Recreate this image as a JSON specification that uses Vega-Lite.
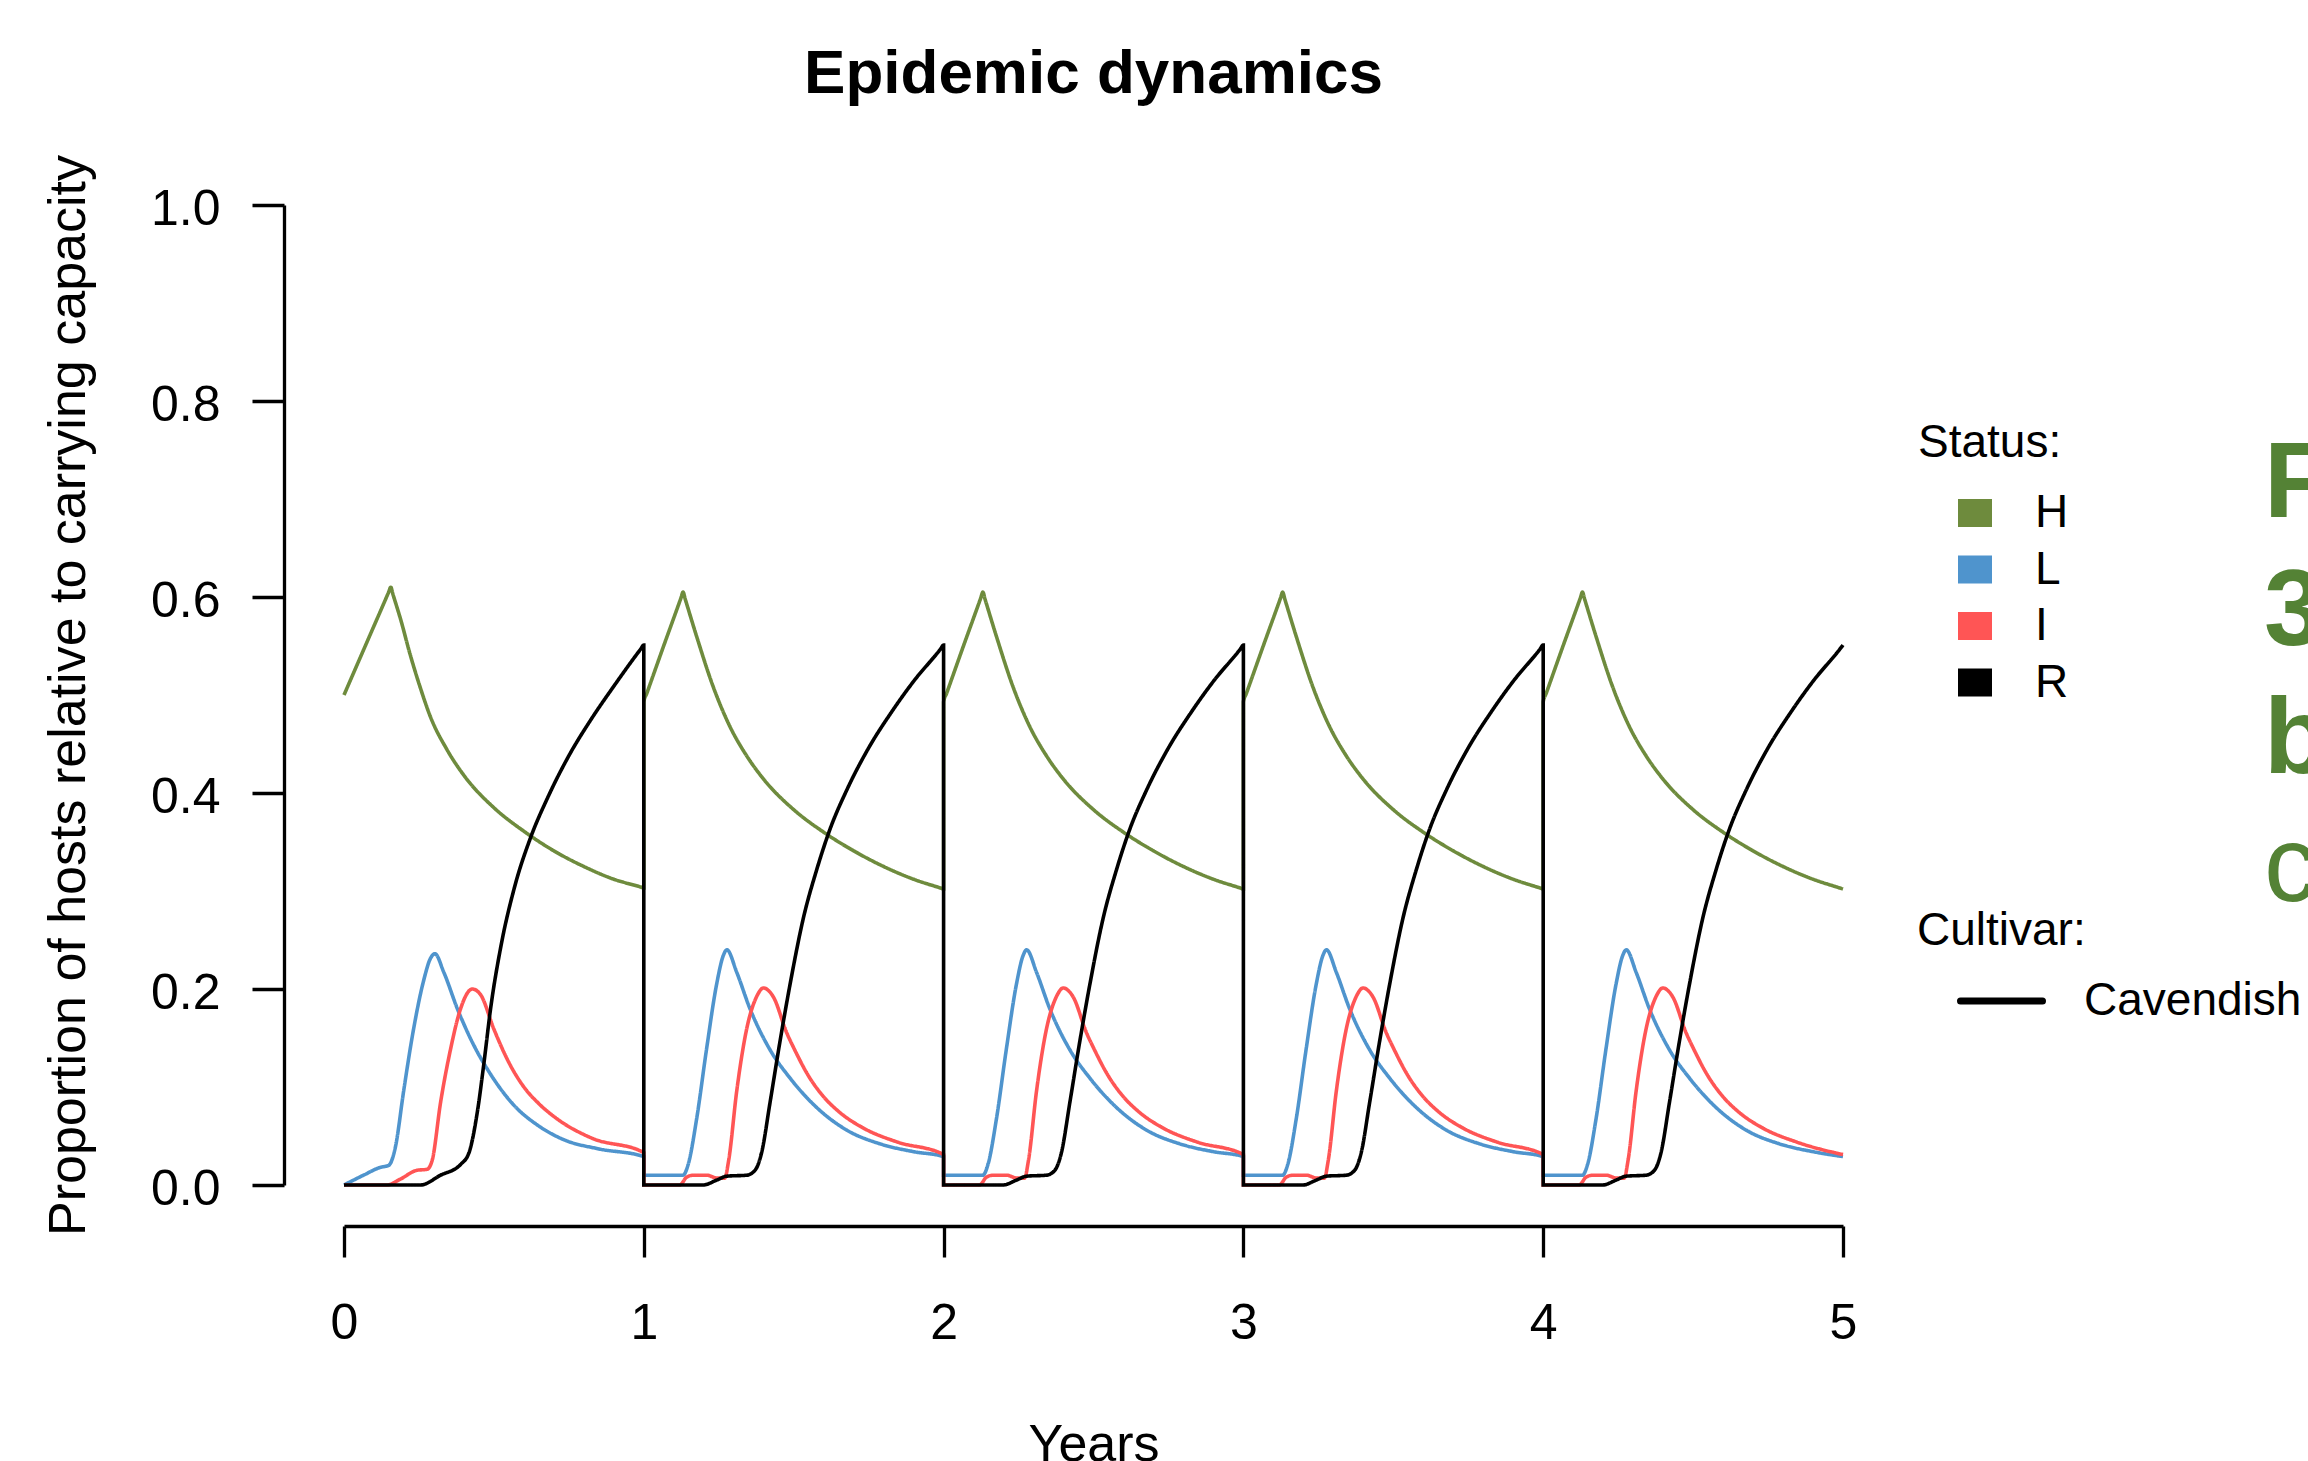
{
  "$schema": "https://vega.github.io/schema/vega-lite/v6.json",
  "width": 1499,
  "height": 980,
  "autosize": {"type": "none"},
  "padding": {"left": 344, "top": 205, "right": 465, "bottom": 276},
  "background": "white",
  "title": {
    "text": "Epidemic dynamics",
    "font": "Liberation Sans",
    "fontSize": 62,
    "fontWeight": "bold",
    "color": "black",
    "anchor": "middle",
    "baseline": "alphabetic",
    "offset": 0
  },
  "datasets": {
    "curves": [
      {"t":0,"v":0.5,"s":"H","c":"Cavendish"},{"t":0.078,"v":0.555,"s":"H","c":"Cavendish"},{"t":0.149,"v":0.605,"s":"H","c":"Cavendish"},{"t":0.156,"v":0.61,"s":"H","c":"Cavendish"},{"t":0.163,"v":0.603,"s":"H","c":"Cavendish"},{"t":0.19,"v":0.576,"s":"H","c":"Cavendish"},{"t":0.22,"v":0.542,"s":"H","c":"Cavendish"},{"t":0.255,"v":0.507,"s":"H","c":"Cavendish"},{"t":0.288,"v":0.478,"s":"H","c":"Cavendish"},{"t":0.344,"v":0.444,"s":"H","c":"Cavendish"},{"t":0.4,"v":0.418,"s":"H","c":"Cavendish"},{"t":0.5,"v":0.385,"s":"H","c":"Cavendish"},{"t":0.6,"v":0.361,"s":"H","c":"Cavendish"},{"t":0.7,"v":0.341,"s":"H","c":"Cavendish"},{"t":0.8,"v":0.325,"s":"H","c":"Cavendish"},{"t":0.9,"v":0.312,"s":"H","c":"Cavendish"},{"t":0.99,"v":0.304,"s":"H","c":"Cavendish"},{"t":1,"v":0.303,"s":"H","c":"Cavendish"},
      {"t":1,"v":0.493,"s":"H","c":"Cavendish"},{"t":1.01,"v":0.5016,"s":"H","c":"Cavendish"},{"t":1.065,"v":0.549,"s":"H","c":"Cavendish"},{"t":1.124,"v":0.599,"s":"H","c":"Cavendish"},{"t":1.131,"v":0.605,"s":"H","c":"Cavendish"},{"t":1.138,"v":0.598,"s":"H","c":"Cavendish"},{"t":1.176,"v":0.56,"s":"H","c":"Cavendish"},{"t":1.232,"v":0.508,"s":"H","c":"Cavendish"},{"t":1.287,"v":0.468,"s":"H","c":"Cavendish"},{"t":1.343,"v":0.438,"s":"H","c":"Cavendish"},{"t":1.4,"v":0.414,"s":"H","c":"Cavendish"},{"t":1.5,"v":0.383,"s":"H","c":"Cavendish"},{"t":1.6,"v":0.36,"s":"H","c":"Cavendish"},{"t":1.7,"v":0.341,"s":"H","c":"Cavendish"},{"t":1.8,"v":0.325,"s":"H","c":"Cavendish"},{"t":1.9,"v":0.312,"s":"H","c":"Cavendish"},{"t":1.99,"v":0.303,"s":"H","c":"Cavendish"},{"t":2,"v":0.302,"s":"H","c":"Cavendish"},
      {"t":2,"v":0.493,"s":"H","c":"Cavendish"},{"t":2.01,"v":0.5016,"s":"H","c":"Cavendish"},{"t":2.065,"v":0.549,"s":"H","c":"Cavendish"},{"t":2.124,"v":0.599,"s":"H","c":"Cavendish"},{"t":2.131,"v":0.605,"s":"H","c":"Cavendish"},{"t":2.138,"v":0.598,"s":"H","c":"Cavendish"},{"t":2.176,"v":0.56,"s":"H","c":"Cavendish"},{"t":2.232,"v":0.508,"s":"H","c":"Cavendish"},{"t":2.287,"v":0.468,"s":"H","c":"Cavendish"},{"t":2.343,"v":0.438,"s":"H","c":"Cavendish"},{"t":2.4,"v":0.414,"s":"H","c":"Cavendish"},{"t":2.5,"v":0.383,"s":"H","c":"Cavendish"},{"t":2.6,"v":0.36,"s":"H","c":"Cavendish"},{"t":2.7,"v":0.341,"s":"H","c":"Cavendish"},{"t":2.8,"v":0.325,"s":"H","c":"Cavendish"},{"t":2.9,"v":0.312,"s":"H","c":"Cavendish"},{"t":2.99,"v":0.303,"s":"H","c":"Cavendish"},{"t":3,"v":0.302,"s":"H","c":"Cavendish"},
      {"t":3,"v":0.493,"s":"H","c":"Cavendish"},{"t":3.01,"v":0.5016,"s":"H","c":"Cavendish"},{"t":3.065,"v":0.549,"s":"H","c":"Cavendish"},{"t":3.124,"v":0.599,"s":"H","c":"Cavendish"},{"t":3.131,"v":0.605,"s":"H","c":"Cavendish"},{"t":3.138,"v":0.598,"s":"H","c":"Cavendish"},{"t":3.176,"v":0.56,"s":"H","c":"Cavendish"},{"t":3.232,"v":0.508,"s":"H","c":"Cavendish"},{"t":3.287,"v":0.468,"s":"H","c":"Cavendish"},{"t":3.343,"v":0.438,"s":"H","c":"Cavendish"},{"t":3.4,"v":0.414,"s":"H","c":"Cavendish"},{"t":3.5,"v":0.383,"s":"H","c":"Cavendish"},{"t":3.6,"v":0.36,"s":"H","c":"Cavendish"},{"t":3.7,"v":0.341,"s":"H","c":"Cavendish"},{"t":3.8,"v":0.325,"s":"H","c":"Cavendish"},{"t":3.9,"v":0.312,"s":"H","c":"Cavendish"},{"t":3.99,"v":0.303,"s":"H","c":"Cavendish"},{"t":4,"v":0.302,"s":"H","c":"Cavendish"},
      {"t":4,"v":0.493,"s":"H","c":"Cavendish"},{"t":4.01,"v":0.5016,"s":"H","c":"Cavendish"},{"t":4.065,"v":0.549,"s":"H","c":"Cavendish"},{"t":4.124,"v":0.599,"s":"H","c":"Cavendish"},{"t":4.131,"v":0.605,"s":"H","c":"Cavendish"},{"t":4.138,"v":0.598,"s":"H","c":"Cavendish"},{"t":4.176,"v":0.56,"s":"H","c":"Cavendish"},{"t":4.232,"v":0.508,"s":"H","c":"Cavendish"},{"t":4.287,"v":0.468,"s":"H","c":"Cavendish"},{"t":4.343,"v":0.438,"s":"H","c":"Cavendish"},{"t":4.4,"v":0.414,"s":"H","c":"Cavendish"},{"t":4.5,"v":0.383,"s":"H","c":"Cavendish"},{"t":4.6,"v":0.36,"s":"H","c":"Cavendish"},{"t":4.7,"v":0.341,"s":"H","c":"Cavendish"},{"t":4.8,"v":0.325,"s":"H","c":"Cavendish"},{"t":4.9,"v":0.312,"s":"H","c":"Cavendish"},{"t":4.99,"v":0.303,"s":"H","c":"Cavendish"},{"t":5,"v":0.302,"s":"H","c":"Cavendish"},

      {"t":0,"v":0,"s":"L","c":"Cavendish"},{"t":0.065,"v":0.01,"s":"L","c":"Cavendish"},{"t":0.121,"v":0.018,"s":"L","c":"Cavendish"},{"t":0.149,"v":0.02,"s":"L","c":"Cavendish"},{"t":0.171,"v":0.038,"s":"L","c":"Cavendish"},{"t":0.199,"v":0.096,"s":"L","c":"Cavendish"},{"t":0.232,"v":0.159,"s":"L","c":"Cavendish"},{"t":0.266,"v":0.209,"s":"L","c":"Cavendish"},{"t":0.288,"v":0.231,"s":"L","c":"Cavendish"},{"t":0.303,"v":0.236,"s":"L","c":"Cavendish"},{"t":0.333,"v":0.217,"s":"L","c":"Cavendish"},{"t":0.378,"v":0.18,"s":"L","c":"Cavendish"},{"t":0.434,"v":0.142,"s":"L","c":"Cavendish"},{"t":0.489,"v":0.113,"s":"L","c":"Cavendish"},{"t":0.568,"v":0.081,"s":"L","c":"Cavendish"},{"t":0.646,"v":0.061,"s":"L","c":"Cavendish"},{"t":0.735,"v":0.046,"s":"L","c":"Cavendish"},{"t":0.847,"v":0.037,"s":"L","c":"Cavendish"},{"t":1,"v":0.029,"s":"L","c":"Cavendish"},
      {"t":1,"v":0.01,"s":"L","c":"Cavendish"},{"t":1.131,"v":0.01,"s":"L","c":"Cavendish"},{"t":1.148,"v":0.021,"s":"L","c":"Cavendish"},{"t":1.176,"v":0.067,"s":"L","c":"Cavendish"},{"t":1.209,"v":0.138,"s":"L","c":"Cavendish"},{"t":1.243,"v":0.205,"s":"L","c":"Cavendish"},{"t":1.265,"v":0.234,"s":"L","c":"Cavendish"},{"t":1.277,"v":0.24,"s":"L","c":"Cavendish"},{"t":1.31,"v":0.217,"s":"L","c":"Cavendish"},{"t":1.354,"v":0.18,"s":"L","c":"Cavendish"},{"t":1.421,"v":0.138,"s":"L","c":"Cavendish"},{"t":1.488,"v":0.109,"s":"L","c":"Cavendish"},{"t":1.577,"v":0.079,"s":"L","c":"Cavendish"},{"t":1.677,"v":0.056,"s":"L","c":"Cavendish"},{"t":1.788,"v":0.042,"s":"L","c":"Cavendish"},{"t":1.9,"v":0.034,"s":"L","c":"Cavendish"},{"t":2,"v":0.029,"s":"L","c":"Cavendish"},
      {"t":2,"v":0.01,"s":"L","c":"Cavendish"},{"t":2.131,"v":0.01,"s":"L","c":"Cavendish"},{"t":2.148,"v":0.021,"s":"L","c":"Cavendish"},{"t":2.176,"v":0.067,"s":"L","c":"Cavendish"},{"t":2.209,"v":0.138,"s":"L","c":"Cavendish"},{"t":2.243,"v":0.205,"s":"L","c":"Cavendish"},{"t":2.265,"v":0.234,"s":"L","c":"Cavendish"},{"t":2.277,"v":0.24,"s":"L","c":"Cavendish"},{"t":2.31,"v":0.217,"s":"L","c":"Cavendish"},{"t":2.354,"v":0.18,"s":"L","c":"Cavendish"},{"t":2.421,"v":0.138,"s":"L","c":"Cavendish"},{"t":2.488,"v":0.109,"s":"L","c":"Cavendish"},{"t":2.577,"v":0.079,"s":"L","c":"Cavendish"},{"t":2.677,"v":0.056,"s":"L","c":"Cavendish"},{"t":2.788,"v":0.042,"s":"L","c":"Cavendish"},{"t":2.9,"v":0.034,"s":"L","c":"Cavendish"},{"t":3,"v":0.029,"s":"L","c":"Cavendish"},
      {"t":3,"v":0.01,"s":"L","c":"Cavendish"},{"t":3.131,"v":0.01,"s":"L","c":"Cavendish"},{"t":3.148,"v":0.021,"s":"L","c":"Cavendish"},{"t":3.176,"v":0.067,"s":"L","c":"Cavendish"},{"t":3.209,"v":0.138,"s":"L","c":"Cavendish"},{"t":3.243,"v":0.205,"s":"L","c":"Cavendish"},{"t":3.265,"v":0.234,"s":"L","c":"Cavendish"},{"t":3.277,"v":0.24,"s":"L","c":"Cavendish"},{"t":3.31,"v":0.217,"s":"L","c":"Cavendish"},{"t":3.354,"v":0.18,"s":"L","c":"Cavendish"},{"t":3.421,"v":0.138,"s":"L","c":"Cavendish"},{"t":3.488,"v":0.109,"s":"L","c":"Cavendish"},{"t":3.577,"v":0.079,"s":"L","c":"Cavendish"},{"t":3.677,"v":0.056,"s":"L","c":"Cavendish"},{"t":3.788,"v":0.042,"s":"L","c":"Cavendish"},{"t":3.9,"v":0.034,"s":"L","c":"Cavendish"},{"t":4,"v":0.029,"s":"L","c":"Cavendish"},
      {"t":4,"v":0.01,"s":"L","c":"Cavendish"},{"t":4.131,"v":0.01,"s":"L","c":"Cavendish"},{"t":4.148,"v":0.021,"s":"L","c":"Cavendish"},{"t":4.176,"v":0.067,"s":"L","c":"Cavendish"},{"t":4.209,"v":0.138,"s":"L","c":"Cavendish"},{"t":4.243,"v":0.205,"s":"L","c":"Cavendish"},{"t":4.265,"v":0.234,"s":"L","c":"Cavendish"},{"t":4.277,"v":0.24,"s":"L","c":"Cavendish"},{"t":4.31,"v":0.217,"s":"L","c":"Cavendish"},{"t":4.354,"v":0.18,"s":"L","c":"Cavendish"},{"t":4.421,"v":0.138,"s":"L","c":"Cavendish"},{"t":4.488,"v":0.109,"s":"L","c":"Cavendish"},{"t":4.577,"v":0.079,"s":"L","c":"Cavendish"},{"t":4.677,"v":0.056,"s":"L","c":"Cavendish"},{"t":4.788,"v":0.042,"s":"L","c":"Cavendish"},{"t":4.9,"v":0.034,"s":"L","c":"Cavendish"},{"t":5,"v":0.029,"s":"L","c":"Cavendish"},

      {"t":0,"v":0,"s":"I","c":"Cavendish"},{"t":0.143,"v":0,"s":"I","c":"Cavendish"},{"t":0.188,"v":0.006,"s":"I","c":"Cavendish"},{"t":0.243,"v":0.015,"s":"I","c":"Cavendish"},{"t":0.277,"v":0.016,"s":"I","c":"Cavendish"},{"t":0.294,"v":0.025,"s":"I","c":"Cavendish"},{"t":0.322,"v":0.084,"s":"I","c":"Cavendish"},{"t":0.355,"v":0.138,"s":"I","c":"Cavendish"},{"t":0.389,"v":0.18,"s":"I","c":"Cavendish"},{"t":0.428,"v":0.2,"s":"I","c":"Cavendish"},{"t":0.456,"v":0.194,"s":"I","c":"Cavendish"},{"t":0.5,"v":0.159,"s":"I","c":"Cavendish"},{"t":0.55,"v":0.125,"s":"I","c":"Cavendish"},{"t":0.6,"v":0.1,"s":"I","c":"Cavendish"},{"t":0.65,"v":0.083,"s":"I","c":"Cavendish"},{"t":0.713,"v":0.067,"s":"I","c":"Cavendish"},{"t":0.825,"v":0.048,"s":"I","c":"Cavendish"},{"t":1,"v":0.033,"s":"I","c":"Cavendish"},
      {"t":1,"v":0,"s":"I","c":"Cavendish"},{"t":1.12,"v":0,"s":"I","c":"Cavendish"},{"t":1.143,"v":0.008,"s":"I","c":"Cavendish"},{"t":1.165,"v":0.01,"s":"I","c":"Cavendish"},{"t":1.21,"v":0.01,"s":"I","c":"Cavendish"},{"t":1.245,"v":0.007,"s":"I","c":"Cavendish"},{"t":1.27,"v":0.007,"s":"I","c":"Cavendish"},{"t":1.283,"v":0.025,"s":"I","c":"Cavendish"},{"t":1.31,"v":0.096,"s":"I","c":"Cavendish"},{"t":1.343,"v":0.159,"s":"I","c":"Cavendish"},{"t":1.376,"v":0.192,"s":"I","c":"Cavendish"},{"t":1.399,"v":0.201,"s":"I","c":"Cavendish"},{"t":1.432,"v":0.192,"s":"I","c":"Cavendish"},{"t":1.477,"v":0.155,"s":"I","c":"Cavendish"},{"t":1.5,"v":0.14,"s":"I","c":"Cavendish"},{"t":1.55,"v":0.111,"s":"I","c":"Cavendish"},{"t":1.6,"v":0.09,"s":"I","c":"Cavendish"},{"t":1.65,"v":0.075,"s":"I","c":"Cavendish"},{"t":1.733,"v":0.058,"s":"I","c":"Cavendish"},{"t":1.844,"v":0.044,"s":"I","c":"Cavendish"},{"t":2,"v":0.031,"s":"I","c":"Cavendish"},
      {"t":2,"v":0,"s":"I","c":"Cavendish"},{"t":2.12,"v":0,"s":"I","c":"Cavendish"},{"t":2.143,"v":0.008,"s":"I","c":"Cavendish"},{"t":2.165,"v":0.01,"s":"I","c":"Cavendish"},{"t":2.21,"v":0.01,"s":"I","c":"Cavendish"},{"t":2.245,"v":0.007,"s":"I","c":"Cavendish"},{"t":2.27,"v":0.007,"s":"I","c":"Cavendish"},{"t":2.283,"v":0.025,"s":"I","c":"Cavendish"},{"t":2.31,"v":0.096,"s":"I","c":"Cavendish"},{"t":2.343,"v":0.159,"s":"I","c":"Cavendish"},{"t":2.376,"v":0.192,"s":"I","c":"Cavendish"},{"t":2.399,"v":0.201,"s":"I","c":"Cavendish"},{"t":2.432,"v":0.192,"s":"I","c":"Cavendish"},{"t":2.477,"v":0.155,"s":"I","c":"Cavendish"},{"t":2.5,"v":0.14,"s":"I","c":"Cavendish"},{"t":2.55,"v":0.111,"s":"I","c":"Cavendish"},{"t":2.6,"v":0.09,"s":"I","c":"Cavendish"},{"t":2.65,"v":0.075,"s":"I","c":"Cavendish"},{"t":2.733,"v":0.058,"s":"I","c":"Cavendish"},{"t":2.844,"v":0.044,"s":"I","c":"Cavendish"},{"t":3,"v":0.031,"s":"I","c":"Cavendish"},
      {"t":3,"v":0,"s":"I","c":"Cavendish"},{"t":3.12,"v":0,"s":"I","c":"Cavendish"},{"t":3.143,"v":0.008,"s":"I","c":"Cavendish"},{"t":3.165,"v":0.01,"s":"I","c":"Cavendish"},{"t":3.21,"v":0.01,"s":"I","c":"Cavendish"},{"t":3.245,"v":0.007,"s":"I","c":"Cavendish"},{"t":3.27,"v":0.007,"s":"I","c":"Cavendish"},{"t":3.283,"v":0.025,"s":"I","c":"Cavendish"},{"t":3.31,"v":0.096,"s":"I","c":"Cavendish"},{"t":3.343,"v":0.159,"s":"I","c":"Cavendish"},{"t":3.376,"v":0.192,"s":"I","c":"Cavendish"},{"t":3.399,"v":0.201,"s":"I","c":"Cavendish"},{"t":3.432,"v":0.192,"s":"I","c":"Cavendish"},{"t":3.477,"v":0.155,"s":"I","c":"Cavendish"},{"t":3.5,"v":0.14,"s":"I","c":"Cavendish"},{"t":3.55,"v":0.111,"s":"I","c":"Cavendish"},{"t":3.6,"v":0.09,"s":"I","c":"Cavendish"},{"t":3.65,"v":0.075,"s":"I","c":"Cavendish"},{"t":3.733,"v":0.058,"s":"I","c":"Cavendish"},{"t":3.844,"v":0.044,"s":"I","c":"Cavendish"},{"t":4,"v":0.031,"s":"I","c":"Cavendish"},
      {"t":4,"v":0,"s":"I","c":"Cavendish"},{"t":4.12,"v":0,"s":"I","c":"Cavendish"},{"t":4.143,"v":0.008,"s":"I","c":"Cavendish"},{"t":4.165,"v":0.01,"s":"I","c":"Cavendish"},{"t":4.21,"v":0.01,"s":"I","c":"Cavendish"},{"t":4.245,"v":0.007,"s":"I","c":"Cavendish"},{"t":4.27,"v":0.007,"s":"I","c":"Cavendish"},{"t":4.283,"v":0.025,"s":"I","c":"Cavendish"},{"t":4.31,"v":0.096,"s":"I","c":"Cavendish"},{"t":4.343,"v":0.159,"s":"I","c":"Cavendish"},{"t":4.376,"v":0.192,"s":"I","c":"Cavendish"},{"t":4.399,"v":0.201,"s":"I","c":"Cavendish"},{"t":4.432,"v":0.192,"s":"I","c":"Cavendish"},{"t":4.477,"v":0.155,"s":"I","c":"Cavendish"},{"t":4.5,"v":0.14,"s":"I","c":"Cavendish"},{"t":4.55,"v":0.111,"s":"I","c":"Cavendish"},{"t":4.6,"v":0.09,"s":"I","c":"Cavendish"},{"t":4.65,"v":0.075,"s":"I","c":"Cavendish"},{"t":4.733,"v":0.058,"s":"I","c":"Cavendish"},{"t":4.844,"v":0.044,"s":"I","c":"Cavendish"},{"t":5,"v":0.031,"s":"I","c":"Cavendish"},

      {"t":0,"v":0,"s":"R","c":"Cavendish"},{"t":0.255,"v":0,"s":"R","c":"Cavendish"},{"t":0.322,"v":0.01,"s":"R","c":"Cavendish"},{"t":0.389,"v":0.021,"s":"R","c":"Cavendish"},{"t":0.417,"v":0.033,"s":"R","c":"Cavendish"},{"t":0.445,"v":0.075,"s":"R","c":"Cavendish"},{"t":0.467,"v":0.125,"s":"R","c":"Cavendish"},{"t":0.489,"v":0.18,"s":"R","c":"Cavendish"},{"t":0.523,"v":0.243,"s":"R","c":"Cavendish"},{"t":0.568,"v":0.303,"s":"R","c":"Cavendish"},{"t":0.623,"v":0.355,"s":"R","c":"Cavendish"},{"t":0.679,"v":0.395,"s":"R","c":"Cavendish"},{"t":0.75,"v":0.438,"s":"R","c":"Cavendish"},{"t":0.825,"v":0.4755,"s":"R","c":"Cavendish"},{"t":0.9,"v":0.509,"s":"R","c":"Cavendish"},{"t":0.99,"v":0.547,"s":"R","c":"Cavendish"},{"t":1,"v":0.551,"s":"R","c":"Cavendish"},
      {"t":1,"v":0,"s":"R","c":"Cavendish"},{"t":1.198,"v":0,"s":"R","c":"Cavendish"},{"t":1.243,"v":0.005,"s":"R","c":"Cavendish"},{"t":1.276,"v":0.009,"s":"R","c":"Cavendish"},{"t":1.343,"v":0.01,"s":"R","c":"Cavendish"},{"t":1.371,"v":0.015,"s":"R","c":"Cavendish"},{"t":1.393,"v":0.033,"s":"R","c":"Cavendish"},{"t":1.421,"v":0.084,"s":"R","c":"Cavendish"},{"t":1.454,"v":0.146,"s":"R","c":"Cavendish"},{"t":1.488,"v":0.205,"s":"R","c":"Cavendish"},{"t":1.532,"v":0.272,"s":"R","c":"Cavendish"},{"t":1.577,"v":0.322,"s":"R","c":"Cavendish"},{"t":1.621,"v":0.363,"s":"R","c":"Cavendish"},{"t":1.677,"v":0.403,"s":"R","c":"Cavendish"},{"t":1.75,"v":0.446,"s":"R","c":"Cavendish"},{"t":1.825,"v":0.482,"s":"R","c":"Cavendish"},{"t":1.9,"v":0.514,"s":"R","c":"Cavendish"},{"t":1.99,"v":0.547,"s":"R","c":"Cavendish"},{"t":2,"v":0.551,"s":"R","c":"Cavendish"},
      {"t":2,"v":0,"s":"R","c":"Cavendish"},{"t":2.198,"v":0,"s":"R","c":"Cavendish"},{"t":2.243,"v":0.005,"s":"R","c":"Cavendish"},{"t":2.276,"v":0.009,"s":"R","c":"Cavendish"},{"t":2.343,"v":0.01,"s":"R","c":"Cavendish"},{"t":2.371,"v":0.015,"s":"R","c":"Cavendish"},{"t":2.393,"v":0.033,"s":"R","c":"Cavendish"},{"t":2.421,"v":0.084,"s":"R","c":"Cavendish"},{"t":2.454,"v":0.146,"s":"R","c":"Cavendish"},{"t":2.488,"v":0.205,"s":"R","c":"Cavendish"},{"t":2.532,"v":0.272,"s":"R","c":"Cavendish"},{"t":2.577,"v":0.322,"s":"R","c":"Cavendish"},{"t":2.621,"v":0.363,"s":"R","c":"Cavendish"},{"t":2.677,"v":0.403,"s":"R","c":"Cavendish"},{"t":2.75,"v":0.446,"s":"R","c":"Cavendish"},{"t":2.825,"v":0.482,"s":"R","c":"Cavendish"},{"t":2.9,"v":0.514,"s":"R","c":"Cavendish"},{"t":2.99,"v":0.547,"s":"R","c":"Cavendish"},{"t":3,"v":0.551,"s":"R","c":"Cavendish"},
      {"t":3,"v":0,"s":"R","c":"Cavendish"},{"t":3.198,"v":0,"s":"R","c":"Cavendish"},{"t":3.243,"v":0.005,"s":"R","c":"Cavendish"},{"t":3.276,"v":0.009,"s":"R","c":"Cavendish"},{"t":3.343,"v":0.01,"s":"R","c":"Cavendish"},{"t":3.371,"v":0.015,"s":"R","c":"Cavendish"},{"t":3.393,"v":0.033,"s":"R","c":"Cavendish"},{"t":3.421,"v":0.084,"s":"R","c":"Cavendish"},{"t":3.454,"v":0.146,"s":"R","c":"Cavendish"},{"t":3.488,"v":0.205,"s":"R","c":"Cavendish"},{"t":3.532,"v":0.272,"s":"R","c":"Cavendish"},{"t":3.577,"v":0.322,"s":"R","c":"Cavendish"},{"t":3.621,"v":0.363,"s":"R","c":"Cavendish"},{"t":3.677,"v":0.403,"s":"R","c":"Cavendish"},{"t":3.75,"v":0.446,"s":"R","c":"Cavendish"},{"t":3.825,"v":0.482,"s":"R","c":"Cavendish"},{"t":3.9,"v":0.514,"s":"R","c":"Cavendish"},{"t":3.99,"v":0.547,"s":"R","c":"Cavendish"},{"t":4,"v":0.551,"s":"R","c":"Cavendish"},
      {"t":4,"v":0,"s":"R","c":"Cavendish"},{"t":4.198,"v":0,"s":"R","c":"Cavendish"},{"t":4.243,"v":0.005,"s":"R","c":"Cavendish"},{"t":4.276,"v":0.009,"s":"R","c":"Cavendish"},{"t":4.343,"v":0.01,"s":"R","c":"Cavendish"},{"t":4.371,"v":0.015,"s":"R","c":"Cavendish"},{"t":4.393,"v":0.033,"s":"R","c":"Cavendish"},{"t":4.421,"v":0.084,"s":"R","c":"Cavendish"},{"t":4.454,"v":0.146,"s":"R","c":"Cavendish"},{"t":4.488,"v":0.205,"s":"R","c":"Cavendish"},{"t":4.532,"v":0.272,"s":"R","c":"Cavendish"},{"t":4.577,"v":0.322,"s":"R","c":"Cavendish"},{"t":4.621,"v":0.363,"s":"R","c":"Cavendish"},{"t":4.677,"v":0.403,"s":"R","c":"Cavendish"},{"t":4.75,"v":0.446,"s":"R","c":"Cavendish"},{"t":4.825,"v":0.482,"s":"R","c":"Cavendish"},{"t":4.9,"v":0.514,"s":"R","c":"Cavendish"},{"t":4.99,"v":0.547,"s":"R","c":"Cavendish"},{"t":5,"v":0.551,"s":"R","c":"Cavendish"}
    ]
  },
  "layer": [
    {
      "data": {"name": "curves"},
      "mark": {"type": "line", "interpolate": "monotone", "strokeWidth": 3.6},
      "encoding": {
        "x": {
          "field": "t", "type": "quantitative", "title": "Years",
          "scale": {"domain": [0, 5], "nice": false, "zero": false},
          "axis": {
            "values": [0, 1, 2, 3, 4, 5], "format": "d", "grid": false, "offset": 41,
            "domainColor": "black", "domainWidth": 3.3, "tickColor": "black", "tickWidth": 3.3, "tickSize": 31,
            "labelFont": "Liberation Sans", "labelFontSize": 50, "labelColor": "black", "labelPadding": 41, "labelFlush": false,
            "titleFont": "Liberation Sans", "titleFontSize": 52, "titleFontWeight": "normal", "titleColor": "black", "titlePadding": 71
          }
        },
        "y": {
          "field": "v", "type": "quantitative", "title": "Proportion of hosts relative to carrying capacity",
          "scale": {"domain": [0, 1], "nice": false},
          "axis": {
            "values": [0, 0.2, 0.4, 0.6, 0.8, 1], "format": ".1f", "grid": false, "offset": 60,
            "domainColor": "black", "domainWidth": 3.3, "tickColor": "black", "tickWidth": 3.3, "tickSize": 32,
            "labelFont": "Liberation Sans", "labelFontSize": 50, "labelColor": "black", "labelPadding": 32,
            "labelBaseline": "alphabetic", "labelOffset": 19, "labelFlush": false,
            "titleFont": "Liberation Sans", "titleFontSize": 52, "titleFontWeight": "normal", "titleColor": "black",
            "titleBaseline": "alphabetic", "titlePadding": 66
          }
        },
        "color": {
          "field": "s", "type": "nominal",
          "scale": {"domain": ["H", "L", "I", "R"], "range": ["#6E8B3D", "#4F94CD", "#FF5555", "#000000"]},
          "legend": {
            "title": "Status:", "orient": "none", "legendX": 1574, "legendY": 216, "padding": 0,
            "titleFont": "Liberation Sans", "titleFontSize": 46, "titleFontWeight": "normal", "titleColor": "black", "titlePadding": 23,
            "labelFont": "Liberation Sans", "labelFontSize": 46, "labelColor": "black", "labelOffset": 37,
            "symbolType": "M-1,-0.824H1V0.824H-1Z", "symbolSize": 1156, "symbolOffset": 34, "symbolStrokeWidth": 0,
            "clipHeight": 46, "rowPadding": 10.5,
            "encode": {"symbols": {"update": {"fill": {"scale": "color", "field": "value"}, "opacity": {"value": 1}}}}
          }
        },
        "strokeDash": {
          "field": "c", "type": "nominal",
          "scale": {"domain": ["Cavendish"], "range": [[1, 0]]},
          "legend": {
            "title": "Cultivar:", "orient": "none", "legendX": 1573, "legendY": 704, "padding": 0,
            "titleFont": "Liberation Sans", "titleFontSize": 46, "titleFontWeight": "normal", "titleColor": "black", "titlePadding": 23,
            "labelFont": "Liberation Sans", "labelFontSize": 46, "labelColor": "black", "labelOffset": 38, "labelLimit": 500,
            "symbolType": "stroke", "symbolSize": 6724, "symbolStrokeWidth": 7, "symbolStrokeColor": "black", "symbolOffset": 40,
            "clipHeight": 46,
            "encode": {"symbols": {"update": {"stroke": {"value": "black"}, "strokeCap": {"value": "round"}, "opacity": {"value": 1}}}}
          }
        }
      }
    },
    {
      "data": {"values": [{}]},
      "mark": {"type": "text", "text": ["F", "3", "b"], "font": "Liberation Sans", "fontWeight": "bold", "fontSize": 107, "lineHeight": 128, "align": "left", "baseline": "alphabetic", "color": "#548235"},
      "encoding": {
        "x": {"datum": 6.404, "type": "quantitative", "title": "Years"},
        "y": {"datum": 0.6816, "type": "quantitative", "title": "Proportion of hosts relative to carrying capacity"}
      }
    },
    {
      "data": {"values": [{}]},
      "mark": {"type": "text", "text": "c", "font": "Liberation Sans", "fontWeight": "normal", "fontSize": 107, "align": "left", "baseline": "alphabetic", "color": "#548235"},
      "encoding": {
        "x": {"datum": 6.404, "type": "quantitative", "title": "Years"},
        "y": {"datum": 0.2898, "type": "quantitative", "title": "Proportion of hosts relative to carrying capacity"}
      }
    }
  ],
  "config": {
    "view": {"stroke": null},
    "font": "Liberation Sans"
  }
}
